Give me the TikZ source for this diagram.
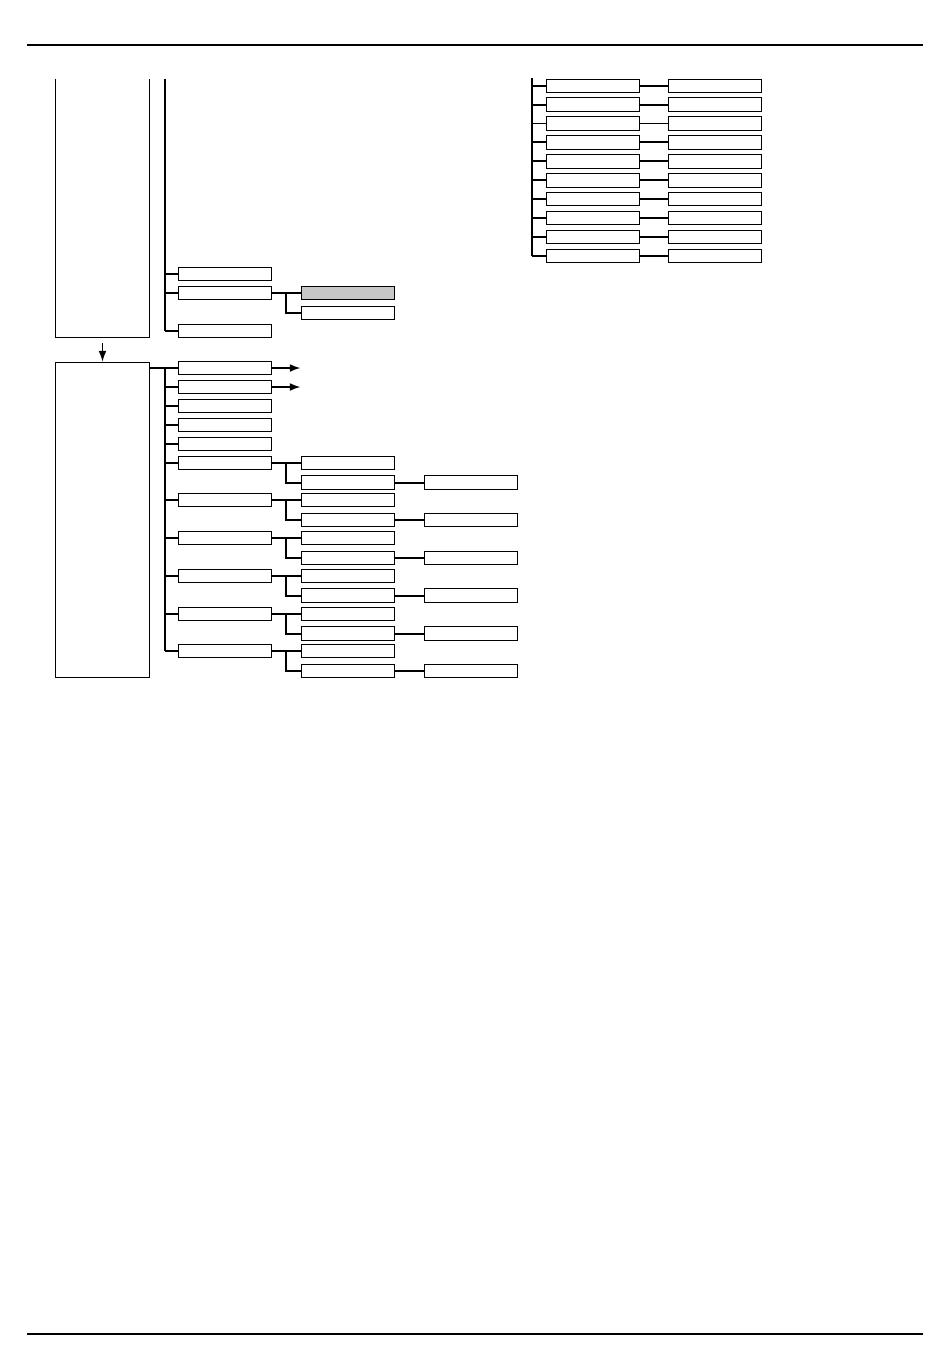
\documentclass[tikz,border=0pt]{standalone}
\usepackage{tikz}
\usetikzlibrary{calc, positioning, arrows.meta}

\begin{document}
\begin{tikzpicture}[x=1pt, y=-1pt, >={Latex[length=11pt, width=8pt]},
    box/.style={draw, line width=0.9pt, minimum width=93pt, minimum height=13.5pt, inner sep=0pt},
    bigbox/.style={line width=0.9pt, minimum width=93.6pt, inner sep=0pt},
    link/.style={line width=1.9pt},
    rule/.style={line width=2pt}]

    \useasboundingbox (0,0) rectangle (950,1360);

    % =================================================================
    % 1. PAGE RULES
    % =================================================================
    \draw[rule] (27,45) -- (922.5,45);
    \draw[rule] (27,1334) -- (922.5,1334);

    % =================================================================
    % 2. LEFT COLUMN: TWO TALL BOXES AND THE ARROW
    % =================================================================
    \node[bigbox, minimum height=258pt] (boxA) at (102.5,208) {};
    \draw[line width=0.9pt] (boxA.north west) |- (boxA.south east) -- (boxA.north east);
    \node[bigbox, draw, minimum height=315pt] (boxB) at (102.5,519.7) {};
    \draw[line width=1.5pt, ->, shorten <=6pt] (boxA.south) -- (boxB.north);

    % =================================================================
    % 3. UPPER BRANCH
    % =================================================================
    \node[box] (u1) at (224.8,274) {};
    \node[box] (u2) at (224.8,293) {};
    \node[box] (u3) at (224.8,331) {};
    \node[box, fill=black!22, right=29pt of u2] (g1) {};
    \node[box, below=5.5pt of g1] (g2) {};

    \coordinate (trunkA) at (165,79);
    \draw[link] (trunkA) -- (trunkA |- u3);
    \foreach \i in {1,2,3} {
        \draw[link] (trunkA |- u\i) -- (u\i.west);
    }
    \draw[link] (u2.east) -- (g1.west);
    \draw[link] ($(u2.east)!0.5!(g1.west)$) |- (g2.west);

    % =================================================================
    % 4. LOWER BRANCH
    % =================================================================
    \foreach \y [count=\i] in {368,387,406,425,444,462.7,500,538,575.7,613.7,651} {
        \node[box] (l\i) at (224.8,\y) {};
    }
    \coordinate (trunkB) at (165,368);
    \draw[link] (boxB.east |- l1) -- (l1.west);
    \draw[link] (trunkB) -- (trunkB |- l11);
    \foreach \i in {2,...,11} {
        \draw[link] (trunkB |- l\i) -- (l\i.west);
    }

    % two boxes leading on
    \foreach \i in {1,2} {
        \coordinate[right=29pt of l\i.east] (e\i);
        \draw[link, ->] (l\i.east) -- (e\i);
    }

    % sub-branches with a leaf each
    \foreach \i in {6,...,11} {
        \node[box, right=29pt of l\i] (m\i-a) {};
        \node[box, below=5.5pt of m\i-a] (m\i-b) {};
        \node[box, right=29pt of m\i-b] (n\i) {};
        \draw[link] (l\i.east) -- (m\i-a.west);
        \draw[link] ($(l\i.east)!0.5!(m\i-a.west)$) |- (m\i-b.west);
        \draw[link] (m\i-b.east) -- (n\i.west);
    }

    % =================================================================
    % 5. RIGHT GROUP (TEN PAIRS)
    % =================================================================
    \foreach \k in {0,...,9} {
        \node[box] (r\k-a) at (592.5,{85.7+18.9*\k}) {};
        \node[box, right=29pt of r\k-a] (r\k-b) {};
        \draw[link] (r\k-a.east) -- (r\k-b.west);
    }
    \coordinate (trunkR) at (531.7,78);
    \draw[link] (trunkR) -- (trunkR |- r9-a);
    \foreach \k in {0,...,9} {
        \draw[link] (trunkR |- r\k-a) -- (r\k-a.west);
    }

\end{tikzpicture}
\end{document}
